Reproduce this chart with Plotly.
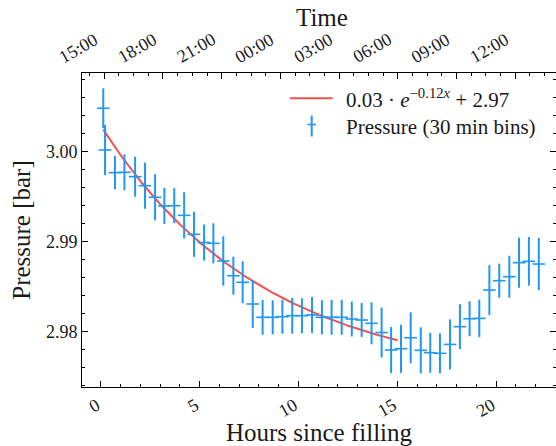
import numpy as np
import plotly.graph_objects as go

# ---- data ----
hours = [0.13, 0.22, 0.72, 1.20, 1.74, 2.24, 2.75, 3.22, 3.72, 4.22,
         4.72, 5.23, 5.70, 6.20, 6.71, 7.18, 7.69, 8.19, 8.70, 9.19,
         9.69, 10.18, 10.69, 11.19, 11.68, 12.19, 12.70, 13.20, 13.70, 14.21,
         14.69, 15.19, 15.68, 16.19, 16.67, 17.16, 17.67, 18.17, 18.66, 19.15,
         19.66, 20.16, 20.67, 21.16, 21.66, 22.16]
pressure = [3.00482, 3.00019, 2.99767, 2.99771, 2.99722, 2.99622, 2.99493, 2.99397, 2.99400, 2.99293,
            2.99082, 2.98991, 2.98982, 2.98786, 2.98622, 2.98549, 2.98308, 2.98160, 2.98160, 2.98167,
            2.98178, 2.98178, 2.98186, 2.98160, 2.98160, 2.98160, 2.98141, 2.98130, 2.98093, 2.97991,
            2.97797, 2.97811, 2.97933, 2.97793, 2.97767, 2.97760, 2.97859, 2.98056, 2.98144, 2.98148,
            2.98463, 2.98567, 2.98611, 2.98767, 2.98782, 2.98752]
pressure_err = [0.00222, 0.00278, 0.00186, 0.00200, 0.00222, 0.00256, 0.00256, 0.00200, 0.00194, 0.00256,
                0.00250, 0.00200, 0.00222, 0.00274, 0.00211, 0.00233, 0.00267, 0.00194, 0.00189, 0.00189,
                0.00200, 0.00194, 0.00200, 0.00189, 0.00194, 0.00194, 0.00194, 0.00189, 0.00233, 0.00278,
                0.00256, 0.00267, 0.00283, 0.00256, 0.00222, 0.00222, 0.00278, 0.00250, 0.00194, 0.00208,
                0.00278, 0.00189, 0.00233, 0.00278, 0.00270, 0.00289]

# exponential fit parameters (legend shows rounded values)
FIT_A = 0.0284
FIT_B = 0.122
FIT_C = 2.9745
fit_start, fit_end = 0.13, 15.02

x_ticks = [0, 5, 10, 15, 20]
y_ticks = [2.98, 2.99, 3.00]
time_tick_offsets = [0, 3, 6, 9, 12, 15, 18, 21]   # hours after 15:00
time_tick_labels = ["15:00", "18:00", "21:00", "00:00", "03:00", "06:00", "09:00", "12:00"]

fit_label = "0.03 · <i>e</i><sup>−0.12<i>x</i></sup> + 2.97"
data_label = "Pressure (30 min bins)"

# ---- styling ----
BLUE = "#2196f3"
RED = "#ef5350"
FONT = "Liberation Serif, DejaVu Serif, serif"
TXT = "#1a1a1a"
W, H = 556, 446
ML, MR, MT, MB = 82, 0, 73, 59
PW, PH = W - ML - MR, H - MT - MB


def px_x(p):
    return (p - ML) / PW


def px_y(p):
    return (H - MB - p) / PH


fit_x = np.linspace(fit_start, fit_end, 200)
fit_y = FIT_A * np.exp(-FIT_B * fit_x) + FIT_C

fig = go.Figure()
fig.add_trace(go.Scatter(
    x=fit_x, y=fit_y, mode="lines", line=dict(color=RED, width=2),
    showlegend=False, hoverinfo="skip"))
fig.add_trace(go.Scatter(
    x=hours, y=pressure, mode="markers",
    marker=dict(symbol="line-ew", size=9, color=BLUE, line=dict(color=BLUE, width=1.6)),
    error_y=dict(type="data", array=pressure_err, visible=True, color=BLUE, thickness=2, width=0),
    showlegend=False))
# invisible trace to activate the top (time) axis
fig.add_trace(go.Scatter(x=[0], y=[2.98], xaxis="x2", mode="markers",
                         marker=dict(opacity=0), showlegend=False, hoverinfo="skip"))

axis_common = dict(showline=True, linecolor="black", linewidth=1, showgrid=False,
                   zeroline=False, ticks="inside", ticklen=6, tickwidth=1, tickcolor="black",
                   automargin=False)

fig.update_layout(
    width=W, height=H,
    margin=dict(l=ML, r=MR, t=MT, b=MB, pad=0, autoexpand=False),
    paper_bgcolor="white", plot_bgcolor="white",
    font=dict(family=FONT, color=TXT, size=18),
    showlegend=False,
    xaxis=dict(**axis_common, range=[-0.946, 23.03], tickmode="array", tickvals=x_ticks,
               ticktext=[str(v) for v in x_ticks], tickangle=-30, ticklabelshift=-4,
               tickfont=dict(family=FONT, size=18, color=TXT),
               minor=dict(dtick=1, tick0=0, ticks="inside", ticklen=3, tickcolor="black"),
               title=dict(text="Hours since filling", font=dict(family=FONT, size=25, color=TXT),
                          standoff=3)),
    xaxis2=dict(**axis_common, overlaying="x", side="top", anchor="y",
                range=[-1.14, 23.09], tickmode="array", tickvals=time_tick_offsets,
                showticklabels=False,
                minor=dict(dtick=0.75, tick0=0, ticks="inside", ticklen=3, tickcolor="black")),
    yaxis=dict(**axis_common, mirror="ticks", range=[2.97386, 3.00874], tickmode="array",
               tickvals=y_ticks, ticktext=[f"{v:.2f}" for v in y_ticks],
               tickfont=dict(family=FONT, size=18, color=TXT),
               minor=dict(dtick=0.002, tick0=2.98, ticks="inside", ticklen=3, tickcolor="black"),
               title=dict(text="Pressure [bar]", font=dict(family=FONT, size=25, color=TXT),
                          standoff=8)),
)

# top time tick labels (rotated, right-aligned like the reference)
for off, lab in zip(time_tick_offsets, time_tick_labels):
    fig.add_annotation(x=off, y=1, xref="x2", yref="paper", text=lab, showarrow=False,
                       textangle=-30, xanchor="right", yanchor="bottom", yshift=3,
                       font=dict(family=FONT, size=18, color=TXT))

fig.add_annotation(x=px_x(322), y=px_y(17), xref="paper", yref="paper", text="Time",
                   showarrow=False, xanchor="center", yanchor="middle",
                   font=dict(family=FONT, size=25, color=TXT))

# legend (drawn manually)
fig.add_shape(type="line", xref="paper", yref="paper", x0=px_x(290), x1=px_x(332.7),
              y0=px_y(98.3), y1=px_y(98.3), line=dict(color=RED, width=2))
fig.add_shape(type="line", xref="paper", yref="paper", x0=px_x(311.7), x1=px_x(311.7),
              y0=px_y(115.5), y1=px_y(136.5), line=dict(color=BLUE, width=2))
fig.add_shape(type="line", xref="paper", yref="paper", x0=px_x(307.5), x1=px_x(316),
              y0=px_y(124.5), y1=px_y(124.5), line=dict(color=BLUE, width=1.6))
fig.add_annotation(x=px_x(344), y=px_y(98.5), xref="paper", yref="paper", text=fit_label,
                   showarrow=False, xanchor="left", yanchor="middle",
                   font=dict(family=FONT, size=21, color=TXT))
fig.add_annotation(x=px_x(344), y=px_y(127), xref="paper", yref="paper", text=data_label,
                   showarrow=False, xanchor="left", yanchor="middle",
                   font=dict(family=FONT, size=21, color=TXT))

fig.write_html("out.html", config={"displayModeBar": False, "staticPlot": True},
               post_script="document.body.style.margin='0';document.body.style.overflow='hidden';")
